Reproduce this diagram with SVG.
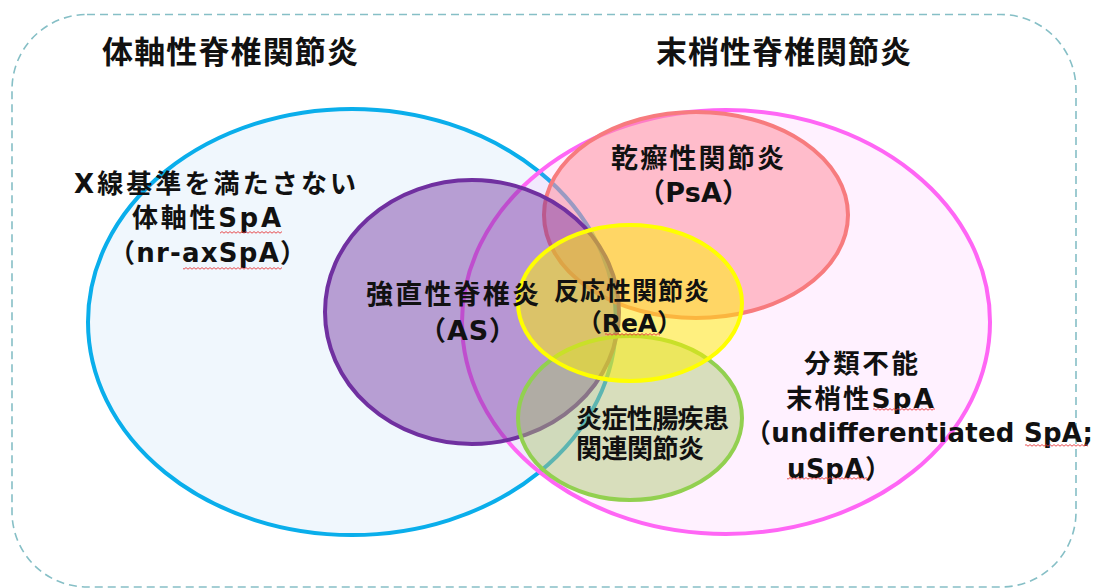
<svg xmlns="http://www.w3.org/2000/svg" width="1099" height="588" viewBox="0 0 1099 588">
  <defs>
    <pattern id="sq" width="4" height="3" patternUnits="userSpaceOnUse">
      <path d="M0 2.2 L2 0.6 L4 2.2" fill="none" stroke="#E5393B" stroke-width="0.9"/>
    </pattern>
    <style>
      .t { font-family: 'DejaVu Sans', 'Noto Sans CJK JP', sans-serif; font-weight: bold; fill: #111111; }
      .title { font-size: 31px; }
      .border { fill: none; stroke: #86BFC6; stroke-width: 1.6; stroke-dasharray: 8 5; }
      .set { stroke-width: 4; }
      .squig { fill: url(#sq); }
    </style>
  </defs>
  <rect width="1099" height="588" fill="#FFFFFF"/>
  <g id="frame">
    <rect class="border" x="12" y="14.5" width="1064" height="572.5" rx="75" ry="75"/>
  </g>
  <g id="titles">
    <text class="t title" x="102" y="63" textLength="256" lengthAdjust="spacing">体軸性脊椎関節炎</text>
    <text class="t title" x="656" y="63" textLength="255" lengthAdjust="spacing">末梢性脊椎関節炎</text>
  </g>
  <g id="connectors"></g>
  <g id="axial-spa">
    <ellipse class="set" cx="352" cy="322" rx="264" ry="213" fill="#F0F7FD" stroke="#0AAEEB"/>
  </g>
  <g id="peripheral-spa">
    <ellipse class="set" cx="726" cy="322" rx="264" ry="212" fill="#FF66FF" fill-opacity="0.09" stroke="#FF66F5"/>
  </g>
  <g id="psa">
    <ellipse class="set" cx="696" cy="215" rx="152" ry="103" fill="#FF8FA0" fill-opacity="0.55" stroke="#F77B7E"/>
  </g>
  <g id="as">
    <ellipse class="set" cx="472" cy="312" rx="147" ry="132" fill="#7030A0" fill-opacity="0.45" stroke="#7030A0"/>
  </g>
  <g id="ibd">
    <ellipse class="set" cx="630" cy="418" rx="112" ry="82" fill="#A9C86A" fill-opacity="0.45" stroke="#92D050"/>
  </g>
  <g id="rea">
    <ellipse class="set" cx="630" cy="303" rx="112" ry="78" fill="#FFF000" fill-opacity="0.5" stroke="#FFFF00"/>
  </g>
  <g id="labels">
    <g id="label-nr-axspa">
      <text class="t" font-size="26" x="74" y="193" textLength="282" lengthAdjust="spacing">X線基準を満たさない</text>
      <text class="t" font-size="26" x="132" y="227" textLength="149" lengthAdjust="spacing">体軸性SpA</text>
      <text class="t" font-size="26" x="109" y="262" textLength="197" lengthAdjust="spacing">（nr-axSpA）</text>
      <rect class="squig" x="220" y="231" width="62" height="3"/>
      <rect class="squig" x="183" y="267" width="99" height="3"/>
    </g>
    <g id="label-as">
      <text class="t" font-size="27" x="366" y="304" textLength="173" lengthAdjust="spacing">強直性脊椎炎</text>
      <text class="t" font-size="27" x="419" y="340" textLength="97" lengthAdjust="spacing">（AS）</text>
    </g>
    <g id="label-rea">
      <text class="t" font-size="25" x="554" y="300" textLength="155" lengthAdjust="spacing">反応性関節炎</text>
      <text class="t" font-size="25" x="577" y="332" textLength="105" lengthAdjust="spacing">（ReA）</text>
      <rect class="squig" x="605" y="333" width="55" height="3"/>
    </g>
    <g id="label-psa">
      <text class="t" font-size="27" x="611" y="168" textLength="173" lengthAdjust="spacing">乾癬性関節炎</text>
      <text class="t" font-size="27" x="638" y="202" textLength="111" lengthAdjust="spacing">（PsA）</text>
    </g>
    <g id="label-ibd">
      <text class="t" font-size="26" x="576" y="428" textLength="153" lengthAdjust="spacing">炎症性腸疾患</text>
      <text class="t" font-size="26" x="576" y="458" textLength="128" lengthAdjust="spacing">関連関節炎</text>
    </g>
    <g id="label-uspa">
      <text class="t" font-size="26.5" x="804" y="373" textLength="114" lengthAdjust="spacing">分類不能</text>
      <text class="t" font-size="26.5" x="786" y="408" textLength="148" lengthAdjust="spacing">末梢性SpA</text>
      <text class="t" font-size="26" x="745" y="442" textLength="348" lengthAdjust="spacing">（undifferentiated SpA;</text>
      <text class="t" font-size="26" x="787" y="478" textLength="104" lengthAdjust="spacing">uSpA）</text>
      <rect class="squig" x="873" y="408" width="62" height="3"/>
      <rect class="squig" x="1025" y="444" width="63" height="3"/>
      <rect class="squig" x="787" y="477" width="81" height="3"/>
    </g>
  </g>
</svg>
